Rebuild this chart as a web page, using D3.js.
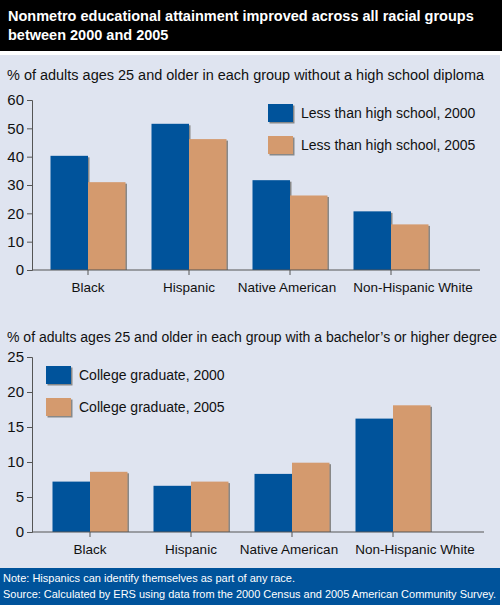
<!DOCTYPE html>
<html><head><meta charset="utf-8">
<script src="https://cdn.jsdelivr.net/npm/d3@7"></script>
<style>body{margin:0;background:#fff}svg{display:block;font-family:"Liberation Sans",Arial,sans-serif}</style>
</head><body><svg id="c" width="502" height="606"></svg>
<script>
const categories = ["Black","Hispanic","Native American","Non-Hispanic White"];
const hs2000 = [40.3, 51.6, 31.7, 20.7];
const hs2005 = [31.0, 46.2, 26.3, 16.1];
const col2000 = [7.2, 6.6, 8.3, 16.2];
const col2005 = [8.6, 7.2, 9.9, 18.1];
const hsTicks = [0,10,20,30,40,50,60];
const colTicks = [0,5,10,15,20,25];
const C1 = "#00539b", C2 = "#d49a6e";
const labelShift = [0,0,-3,22];

const svg = d3.select("#c");
svg.append("rect").attr("x",0).attr("y",0).attr("width",502).attr("height",606).attr("fill","#fff");
svg.append("rect").attr("x",0).attr("y",0).attr("width",502).attr("height",51).attr("fill","#000");
svg.append("rect").attr("x",0).attr("y",55).attr("width",500).attr("height",513).attr("fill","#dfe4f0");
svg.append("rect").attr("x",0).attr("y",568).attr("width",500).attr("height",37).attr("fill","#00539b");
const t = svg.append("text").attr("fill","#fff").attr("font-weight","bold").attr("font-size",14.5);
t.append("tspan").attr("x",8).attr("y",21).text("Nonmetro educational attainment improved across all racial groups");
t.append("tspan").attr("x",8).attr("y",40).text("between 2000 and 2005");
svg.append("text").attr("x",3).attr("y",582).attr("fill","#fff").attr("font-size",11.5).attr("textLength",292).attr("lengthAdjust","spacingAndGlyphs").text("Note:  Hispanics can identify themselves as part of any race.");
svg.append("text").attr("x",3).attr("y",598).attr("fill","#fff").attr("font-size",11.5).attr("textLength",493).attr("lengthAdjust","spacingAndGlyphs").text("Source:  Calculated by ERS using data from the 2000 Census and 2005 American Community Survey.");

function chart(o){
  const g = svg.append("g");
  g.append("text").attr("x",7).attr("y",o.subY).attr("font-size",14).attr("fill","#111").attr("textLength",o.subLen).attr("lengthAdjust","spacingAndGlyphs").text(o.sub);
  const y = d3.scaleLinear().domain([0,o.max]).range([o.y0,o.y1]);
  const x = d3.scaleBand().domain(categories).range([o.x0,o.x0+o.step*4]);
  const inner = d3.scaleBand().domain([0,1]).range([0,75]);
  const ax = g.append("g").attr("transform",`translate(${o.ax},0)`).call(d3.axisLeft(y).tickValues(o.ticks).tickSize(5).tickFormat(d3.format("d")));
  ax.select(".domain").attr("stroke","#555");
  ax.selectAll("line").attr("stroke","#555");
  ax.selectAll("text").attr("font-size",15).attr("fill","#111").attr("font-family","Liberation Sans, Arial, sans-serif");
  const series=[o.a,o.b], cols=[C1,C2];
  series.forEach((s,k)=>{
    g.selectAll(null).data(s).enter().append("rect")
      .attr("x",(d,i)=>x(categories[i])+x.bandwidth()/2-37.5+inner(k)+1.5)
      .attr("y",d=>y(d)+1.5).attr("width",inner.bandwidth()).attr("height",d=>o.y0-y(d)-1.5).attr("fill","#888");
    g.selectAll(null).data(s).enter().append("rect")
      .attr("x",(d,i)=>x(categories[i])+x.bandwidth()/2-37.5+inner(k))
      .attr("y",d=>y(d)).attr("width",inner.bandwidth()).attr("height",d=>o.y0-y(d)).attr("fill",cols[k]);
  });
  g.append("line").attr("x1",o.ax).attr("x2",o.xEnd).attr("y1",o.y0).attr("y2",o.y0).attr("stroke","#555");
  categories.forEach((c,i)=>{
    const cx=x(c)+x.bandwidth()/2;
    g.append("line").attr("x1",cx).attr("x2",cx).attr("y1",o.y0).attr("y2",o.y0+5).attr("stroke","#555");
    g.append("text").attr("x",cx+labelShift[i]).attr("y",o.y0+22).attr("text-anchor","middle").attr("font-size",13.5).attr("fill","#111").text(c);
  });
  o.leg.forEach((l,k)=>{
    g.append("rect").attr("x",o.lx+1.5).attr("y",o.ly+k*32+1.5).attr("width",25).attr("height",18).attr("fill","#888");
    g.append("rect").attr("x",o.lx).attr("y",o.ly+k*32).attr("width",25).attr("height",18).attr("fill",cols[k]);
    g.append("text").attr("x",o.lx+33).attr("y",o.ly+k*32+14).attr("font-size",14).attr("fill","#111").text(l);
  });
}
chart({sub:"% of adults ages 25 and older in each group without a high school diploma",subY:80,subLen:477,max:60,y0:270,y1:100,
  ax:32,xEnd:480,x0:37.5,step:101,ticks:hsTicks,a:hs2000,b:hs2005,lx:268,ly:104,
  leg:["Less than high school, 2000","Less than high school, 2005"]});
chart({sub:"% of adults ages 25 and older in each group with a bachelor’s or higher degree",subY:342,subLen:490,max:25,y0:532,y1:357,
  ax:32,xEnd:484,x0:39.5,step:101,ticks:colTicks,a:col2000,b:col2005,lx:46,ly:366,
  leg:["College graduate, 2000","College graduate, 2005"]});
</script></body></html>
